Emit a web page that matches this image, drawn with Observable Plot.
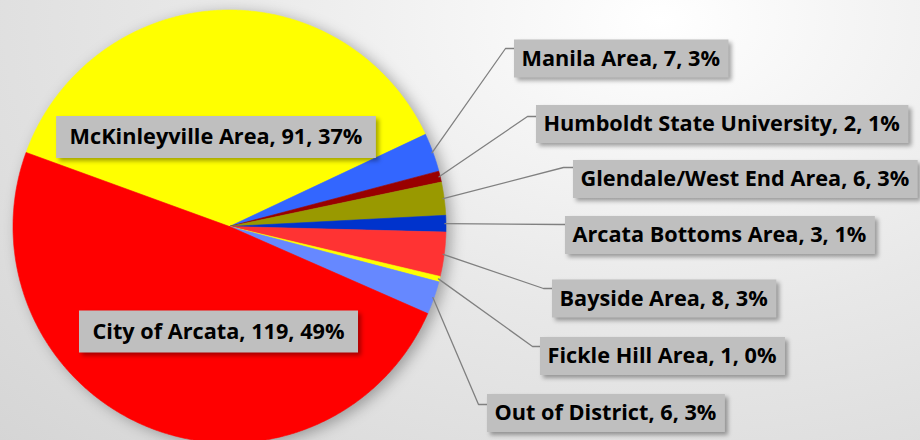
<!DOCTYPE html>
<html><head><meta charset="utf-8">
<script src="https://cdn.jsdelivr.net/npm/d3@7"></script>
<script src="https://cdn.jsdelivr.net/npm/@observablehq/plot@0.6"></script>
<style>
html,body{margin:0;padding:0;}
body{width:920px;height:440px;overflow:hidden;
  background:radial-gradient(ellipse 950px 620px at 660px 20px,#ffffff 0%,#f6f6f6 18%,#e8e8e8 48%,#d4d4d4 100%);}
#chart svg{display:block;background:transparent;}
</style></head><body><div id="chart"></div>
<script>
// ---- data ----
const categories = ["McKinleyville Area","Manila Area","Humboldt State University","Glendale/West End Area","Arcata Bottoms Area","Bayside Area","Fickle Hill Area","Out of District","City of Arcata"];
const counts = [91,7,2,6,3,8,1,6,119];
const percentLabels = ["37%","3%","1%","3%","1%","3%","0%","3%","49%"];
const sliceColors = ["#ffff00","#3366ff","#990000","#999900","#0033cc","#ff3333","#ffff00","#6688ff","#ff0000"];

// ---- layout (pixels) ----
const W = 920, H = 440;
const CX = 229, CY = 226, R = 216.5;
const START_DEG = -70;
const labelAt = [
  [215.5,137,"middle"],[521,58.5,"start"],[543,124,"start"],[580,179,"start"],[572,235,"start"],
  [559,298.5,"start"],[547,356,"start"],[494,413,"start"],[218,331.5,"middle"]
];
const elbowAt = [null,[505,48],[527,116],[563,167],[560,224],[543,288],[532,346],[478,404],null];
const FONT = "Open Sans", FSIZE = 21.7;

const ux = px => (px - CX) / R, uy = py => (CY - py) / R;

const pie = d3.pie().sort(null).startAngle(START_DEG*Math.PI/180).endAngle((START_DEG+360)*Math.PI/180);
const arcs = pie(counts);

const slicePts = [];
arcs.forEach((a, i) => {
  slicePts.push({name: categories[i], color: sliceColors[i], x: 0, y: 0});
  const n = Math.max(2, Math.ceil((a.endAngle - a.startAngle) / 0.005));
  for (let k = 0; k <= n; k++) {
    const t = a.startAngle + (a.endAngle - a.startAngle) * k / n;
    slicePts.push({name: categories[i], color: sliceColors[i], x: Math.sin(t), y: Math.cos(t)});
  }
  slicePts.push({name: categories[i], color: sliceColors[i], x: 0, y: 0});
});

const ctx = document.createElement("canvas").getContext("2d");
ctx.font = `bold ${FSIZE}px "${FONT}"`;
const labels = categories.map((c, i) => {
  const text = `${c}, ${counts[i]}, ${percentLabels[i]}`;
  const w = ctx.measureText(text).width;
  const [tx, ty, anchor] = labelAt[i];
  const inside = anchor === "middle";
  const padL = inside ? 13 : 7, padR = inside ? 14 : 9, h = inside ? 42 : 38;
  const left = inside ? tx - w/2 : tx;
  return {text, anchor, x: ux(tx), y: uy(ty),
    x1: ux(left - padL), x2: ux(left + w + padR), y1: uy(ty - h/2), y2: uy(ty + h/2),
    boxLeft: left - padL};
});

const leaderPts = [];
arcs.forEach((a, i) => {
  if (!elbowAt[i]) return;
  const m = (a.startAngle + a.endAngle) / 2;
  const [ex, ey] = elbowAt[i];
  leaderPts.push({name: categories[i], x: Math.sin(m)*0.995, y: Math.cos(m)*0.995});
  leaderPts.push({name: categories[i], x: ux(ex), y: uy(ey)});
  leaderPts.push({name: categories[i], x: ux(labels[i].boxLeft), y: uy(ey)});
});

const chart = Plot.plot({
  width: W, height: H, margin: 0,
  x: {domain: [-1, 1], range: [CX - R, CX + R], axis: null},
  y: {domain: [-1, 1], range: [CY + R, CY - R], axis: null},
  color: {type: "identity"},
  marks: [
    Plot.line(slicePts, {x: "x", y: "y", z: "name", fill: "color", stroke: "color", strokeWidth: 0.6}),
    Plot.line(leaderPts, {x: "x", y: "y", z: "name", stroke: "#808080", strokeWidth: 1.3}),
    Plot.rect(labels, {x1: "x1", x2: "x2", y1: "y1", y2: "y2", fill: "#bfbfbf"}),
    Plot.text(labels.filter(d => d.anchor === "start"), {x: "x", y: "y", text: "text", textAnchor: "start", fontWeight: "bold", fontSize: FSIZE, fontFamily: FONT, fill: "#000"}),
    Plot.text(labels.filter(d => d.anchor === "middle"), {x: "x", y: "y", text: "text", textAnchor: "middle", fontWeight: "bold", fontSize: FSIZE, fontFamily: FONT, fill: "#000"})
  ]
});
chart.style.background = "transparent";
chart.style.overflow = "visible";
document.getElementById("chart").append(chart);
const lines = chart.querySelectorAll('g[aria-label="line"]');
if (lines[0]) lines[0].style.filter = "drop-shadow(5px 3px 7px rgba(0,0,0,0.3))";
const bx = chart.querySelector('g[aria-label="rect"]');
if (bx) bx.style.filter = "drop-shadow(3px 3px 2px rgba(0,0,0,0.35))";
</script></body></html>
